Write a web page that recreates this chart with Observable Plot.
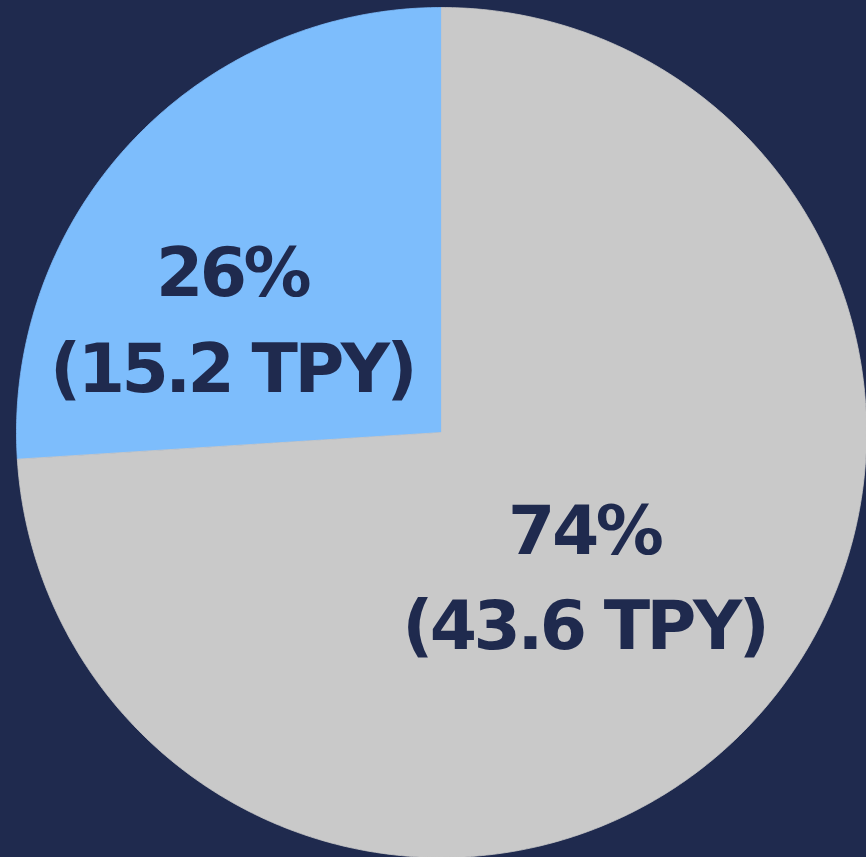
<!DOCTYPE html>
<html>
<head>
<meta charset="utf-8">
<script src="https://cdn.jsdelivr.net/npm/d3@7"></script>
<script src="https://cdn.jsdelivr.net/npm/@observablehq/plot@0.6"></script>
<style>
  html, body { margin: 0; padding: 0; background: #1f2a4e; }
  #chart svg { display: block; }
  #chart text { letter-spacing: -3.5px; }
</style>
</head>
<body>
<div id="chart"></div>
<script>
// Data
const categories = ["Blue share", "Gray share"];
const percents = [26, 74];
const tpy = [15.2, 43.6];
const colors = ["#7dbdfc", "#c9c9c9"];

const W = 866, H = 857;
const cx = 441, cy = 432, R = 425;

// Pie angles (start at 12 o'clock, going counter-clockwise)
const pie = d3.pie().sort(null).value(d => d.value)(
  categories.map((c, i) => ({category: c, value: percents[i], tpy: tpy[i]}))
);

// Build slice outlines in unit coordinates (y up)
const slicePts = [];
pie.forEach(s => {
  const a0 = Math.PI / 2 + s.startAngle, a1 = Math.PI / 2 + s.endAngle;
  const n = Math.max(8, Math.ceil((a1 - a0) / (Math.PI / 360)));
  slicePts.push({cat: s.data.category, x: 0, y: 0});
  for (let k = 0; k <= n; k++) {
    const a = a0 + (a1 - a0) * k / n;
    slicePts.push({cat: s.data.category, x: Math.cos(a), y: Math.sin(a)});
  }
  slicePts.push({cat: s.data.category, x: 0, y: 0});
});

const labels = pie.map(s => {
  const mid = Math.PI / 2 + (s.startAngle + s.endAngle) / 2;
  const r = s.data.value < 50 ? 0.55 : 0.48;
  return {
    cat: s.data.category,
    x: r * Math.cos(mid),
    y: r * Math.sin(mid),
    text: `${s.data.value}%\n(${s.data.tpy} TPY)`
  };
});

const offsets = {"Blue share": [-39, 41], "Gray share": [-6, -1]};

const chart = Plot.plot({
  width: W,
  height: H,
  margin: 0,
  style: {background: "#1f2a4e", overflow: "visible"},
  x: {domain: [-cx / R, (W - cx) / R], range: [0, W], axis: null},
  y: {domain: [-(H - cy) / R, cy / R], range: [H, 0], axis: null},
  color: {domain: categories, range: colors},
  marks: [
    Plot.line(slicePts, {x: "x", y: "y", z: "cat", fill: "cat", stroke: "cat", strokeWidth: 0.8, curve: "linear"}),
    ...labels.map(l => Plot.text([l], {
      x: "x", y: "y", text: "text",
      dx: offsets[l.cat][0], dy: offsets[l.cat][1],
      fill: "#1f2a4e",
      fontSize: 68,
      fontWeight: 800,
      fontFamily: "'DejaVu Sans', sans-serif",
      lineHeight: 1.4,
      textAnchor: "middle"
    }))
  ]
});

document.getElementById("chart").appendChild(chart);
</script>
</body>
</html>
